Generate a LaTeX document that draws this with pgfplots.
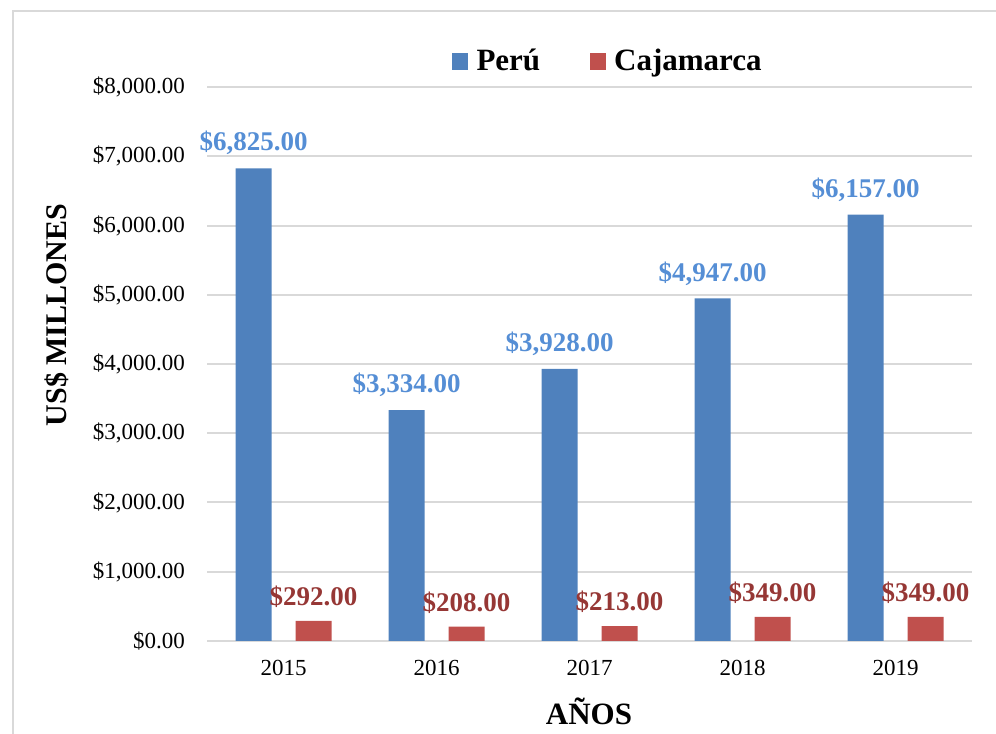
\documentclass[border=0pt]{standalone}
\usepackage{pgfplots}
\pgfplotsset{compat=1.18}
\usepackage{fontspec}
\setmainfont{Liberation Serif}
\definecolor{barblue}{RGB}{79,129,189}
\definecolor{barred}{RGB}{192,80,77}
\definecolor{lblblue}{RGB}{85,142,213}
\definecolor{lblred}{RGB}{150,55,53}
\definecolor{gridgray}{RGB}{217,217,217}
\begin{document}
\begin{tikzpicture}
\path[use as bounding box] (0,0) rectangle (996bp,734bp);
\draw[gridgray, line width=2bp] (13bp,0bp) -- (13bp,723bp) -- (996bp,723bp);
\begin{axis}[
  at={(207bp,93bp)}, anchor=south west,
  scale only axis, width=765bp, height=554bp,
  ybar=24bp, bar width=36bp,
  xmin=-0.5, xmax=4.5, ymin=0, ymax=8000,
  xtick={0,1,2,3,4}, xticklabels={2015,2016,2017,2018,2019},
  ytick={0,1000,2000,3000,4000,5000,6000,7000,8000},
  yticklabels={{\$0.00},{\$1,000.00},{\$2,000.00},{\$3,000.00},{\$4,000.00},{\$5,000.00},{\$6,000.00},{\$7,000.00},{\$8,000.00}},
  axis line style={draw=none},
  major tick length=0pt,
  ymajorgrids, major grid style={gridgray, line width=2bp},
  tick label style={font=\fontsize{23bp}{26bp}\selectfont, inner sep=0pt},
  yticklabel style={xshift=-22bp},
  xticklabel style={yshift=-19bp},
  nodes near coords={\$\pgfmathprintnumber[fixed,fixed zerofill,precision=2,1000 sep={,},assume math mode=true]{\pgfplotspointmeta}},
  every node near coord/.append style={font=\bfseries\fontsize{27bp}{30bp}\selectfont, inner sep=0pt, yshift=13bp},
  legend columns=2,
  legend style={at={(0.320,1.047)}, anchor=west, draw=none, fill=none, inner sep=0pt,
    font=\bfseries\fontsize{31bp}{34bp}\selectfont,
    nodes={inner sep=3.5bp},
    /tikz/every odd column/.append style={column sep=5bp},
    /tikz/every even column/.append style={column sep=46bp}},
  legend image code/.code={\fill[#1] (0bp,-9bp) rectangle (16bp,8bp);},
  clip=false,
]
\addplot[fill=barblue, draw=none, every node near coord/.append style={text=lblblue}]
  coordinates {(0,6825) (1,3334) (2,3928) (3,4947) (4,6157)};
\addplot[fill=barred, draw=none, every node near coord/.append style={text=lblred}]
  coordinates {(0,292) (1,208) (2,213) (3,349) (4,349)};
\legend{Perú, Cajamarca}
\end{axis}
\node[rotate=90, font=\bfseries\fontsize{30bp}{33bp}\selectfont] at (57bp,419bp) {US\$ MILLONES};
\node[font=\bfseries\fontsize{31bp}{34bp}\selectfont] at (589bp,23bp) {AÑOS};
\end{tikzpicture}
\end{document}
